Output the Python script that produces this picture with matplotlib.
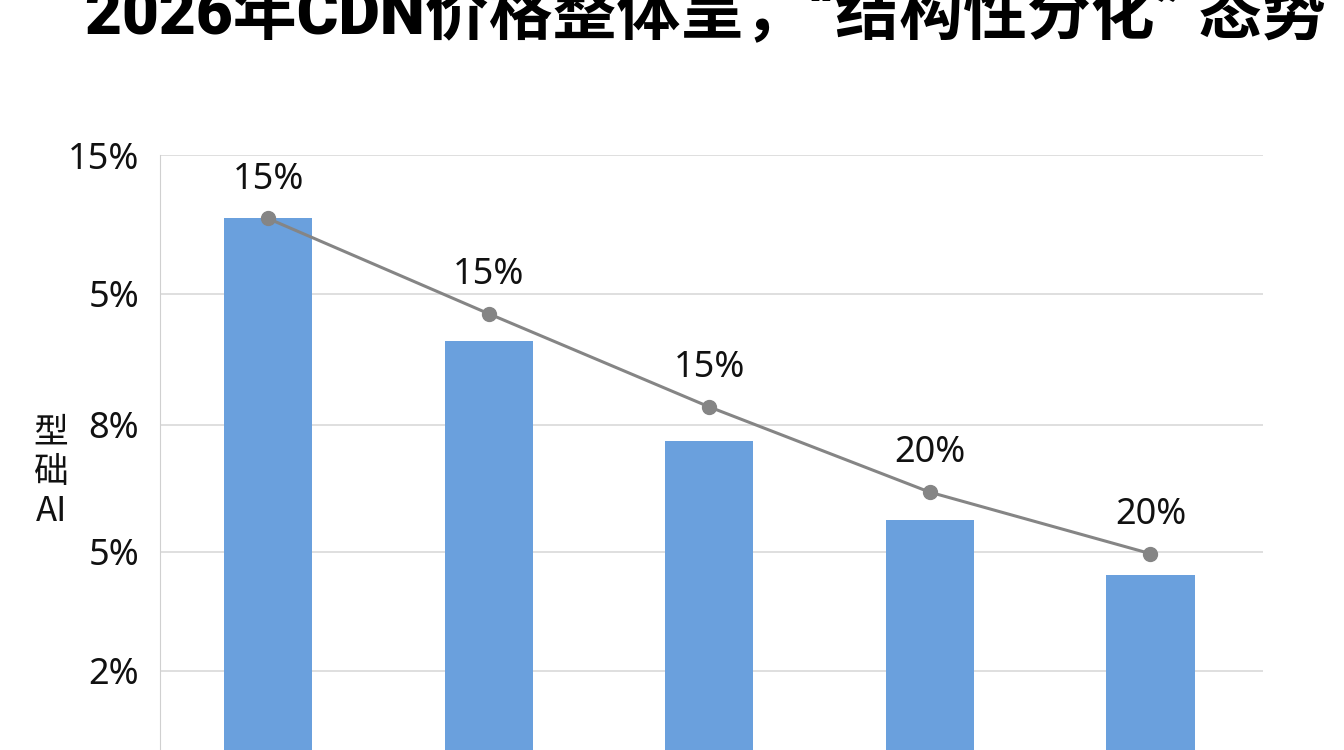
import matplotlib
matplotlib.use("Agg")
from matplotlib import pyplot as plt

plt.rcParams['font.family'] = ['Noto Sans', 'Noto Sans CJK SC', 'DejaVu Sans']

# data
title = "2026年CDN价格整体呈，“结构性分化” 态势"
ylabel = "型\n础\nAI"
bar_vals = [13.4, 10.3, 7.8, 5.8, 4.4]
line_vals = [13.4, 11.0, 8.65, 6.5, 4.95]
line_labels = ["15%", "15%", "15%", "20%", "20%"]
ytick_pos = [2, 5, 8.2, 11.5, 15]
ytick_labels = ["2%", "5%", "8%", "5%", "15%"]

x = list(range(len(bar_vals)))

fig = plt.figure(figsize=(13.44, 7.5), dpi=100)
ax = fig.add_axes([0.119, 0.0, 0.8207, 0.7933])

ax.bar(x, bar_vals, width=0.40, color='#6aa0dd', zorder=2)
ax.plot(x, line_vals, color='#858585', linewidth=2.2, marker='o',
        markersize=10, zorder=3)
for xi, v, lab in zip(x, line_vals, line_labels):
    ax.annotate(lab, (xi, v), xytext=(0, 28), textcoords='offset points',
                ha='center', va='center', fontsize=26, color='#111111')

ax.set_xlim(-0.49, 4.51)
ax.set_ylim(0, 15)
ax.set_yticks(ytick_pos)
ax.set_yticklabels(ytick_labels, fontsize=26, color='#111111')
ax.set_xticks([])
ax.tick_params(axis='y', length=0, pad=15)
ax.grid(axis='y', color='#d9d9d9', linewidth=1.2, zorder=0)
ax.set_axisbelow(True)
for s in ['top', 'right', 'bottom']:
    ax.spines[s].set_visible(False)
ax.spines['left'].set_color('#d0d0d0')

fig.text(0.038, 0.37, ylabel, ha='center', va='center', fontsize=25,
         linespacing=1.15, family=['Noto Sans CJK SC', 'DejaVu Sans'],
         color='#111111')

# title is cut at the top in the original too
fig.text(0.525, 0.955, title, ha='center', va='baseline', fontsize=46,
         fontweight='black', family=['Roboto', 'Noto Sans CJK SC'],
         color='#000000')

fig.savefig('out.png', dpi=100, facecolor='white')
